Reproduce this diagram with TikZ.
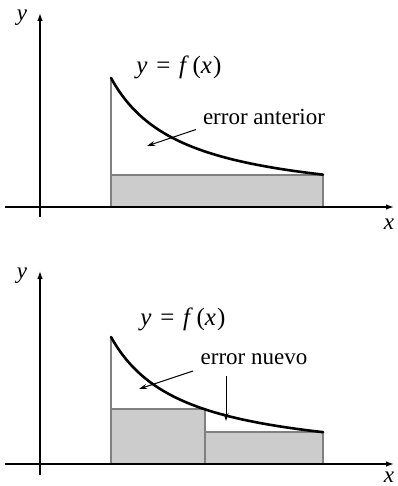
\documentclass[tikz,border=0pt]{standalone}
\usepackage{fontspec}
\setmainfont{Liberation Serif}
\usetikzlibrary{arrows.meta}
\newcommand{\yfx}{\textit{y}\hspace{0.35em}=\hspace{0.35em}\textit{f}\hspace{0.14em}(\textit{x}\hspace{0.05em})}
\begin{document}
\begin{tikzpicture}[x=1pt,y=-1pt,
  axis/.style={line width=1.3pt,-{Latex[length=8pt,width=5.5pt]}},
  curve/.style={line width=2.6pt,line cap=round},
  bar/.style={draw=gray,fill=gray!40,line width=2pt},
  edge/.style={draw=gray,line width=2pt},
  pointer/.style={line width=1pt,-{Stealth[length=8pt,width=5pt]}},
  lbl/.style={font=\fontsize{23}{25}\selectfont,inner sep=0pt},
  flbl/.style={font=\fontsize{25}{27}\selectfont,inner sep=0pt}]
\useasboundingbox (0,0) rectangle (397,486);
% ---------- top panel ----------
\coordinate (tyb) at (40,217);
\coordinate (tyt) at (40,13);
\coordinate (txl) at (5,207);
\coordinate (txr) at (394,207);
\draw[bar] (111,207) rectangle (323,174.6);
\draw[edge] (111,174.6) -- (111,80);
\draw[curve] plot[domain=111:323,samples=80] (\x,{207-9159/(\x-40)});
\draw[axis] (tyb) -- (tyt);
\draw[axis] (txl) -- (txr);
\node[lbl] (ty) at (22,18) {\textit{y}};
\node[lbl] (tx) at (389,224) {\textit{x}};
\node[flbl] (tf) at (179,67) {\yfx};
\node[lbl] (te) at (264,117) {error anterior};
\coordinate (ta1) at (196,129.5);
\coordinate (ta2) at (147,146);
\draw[pointer] (ta1) -- (ta2);
% ---------- bottom panel ----------
\coordinate (byb) at (40,475);
\coordinate (byt) at (40,271);
\coordinate (bxl) at (5,464);
\coordinate (bxr) at (394,464);
\draw[bar] (111,464) rectangle (205,409.4);
\draw[bar] (205,464) rectangle (323,432);
\draw[edge] (111,409.4) -- (111,337);
\draw[curve] plot[domain=111:323,samples=80] (\x,{464-9017/(\x-40)});
\draw[axis] (byb) -- (byt);
\draw[axis] (bxl) -- (bxr);
\node[lbl] (by) at (22,276) {\textit{y}};
\node[lbl] (bx) at (389,477) {\textit{x}};
\node[flbl] (bf) at (183,319) {\yfx};
\node[lbl] (be) at (254,359) {error nuevo};
\coordinate (ba1) at (193,371);
\coordinate (ba2) at (139,389);
\draw[pointer] (ba1) -- (ba2);
\coordinate (bb1) at (226,376);
\coordinate (bb2) at (226,421);
\draw[pointer] (bb1) -- (bb2);
\end{tikzpicture}
\end{document}
